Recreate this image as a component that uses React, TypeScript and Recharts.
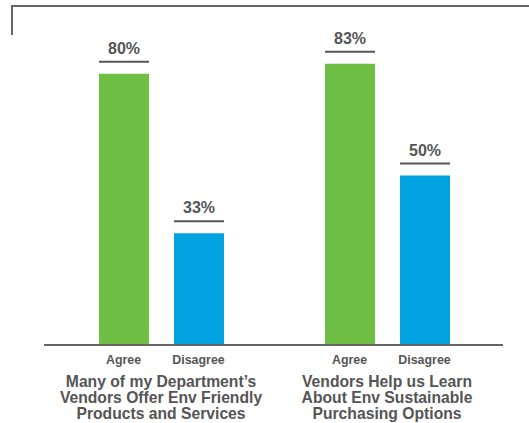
import React from "react";
import { BarChart, Bar, XAxis, YAxis, LabelList } from "recharts";

const groupTitles: string[][] = [
  ["Many of my Department\u2019s", "Vendors Offer Env Friendly", "Products and Services"],
  ["Vendors Help us Learn", "About Env Sustainable", "Purchasing Options"],
];
const categories = ["g1", "g2"];
const agreeValues = [80, 83];
const disagreeValues = [33, 50];
const seriesLabels = ["Agree", "Disagree"];

const data = categories.map((c, i) => ({
  key: c,
  agree: agreeValues[i],
  disagree: disagreeValues[i],
}));

const FONT = "'Liberation Sans', Arial, Helvetica, sans-serif";
const TEXT = "#555555";

const ValueLabel = (props: any) => {
  const { x, y, width, value } = props;
  const cx = x + width / 2;
  return (
    <g>
      <text x={cx} y={y - 20} textAnchor="middle" fontFamily={FONT} fontSize={16} fontWeight="bold" fill={TEXT}>
        {`${value}%`}
      </text>
      <line x1={x} x2={x + width} y1={y - 12} y2={y - 12} stroke={TEXT} strokeWidth={2} />
    </g>
  );
};

const GroupTick = (props: any) => {
  const { x, y, payload } = props;
  const idx = categories.indexOf(payload.value);
  const lines = groupTitles[idx] || [];
  return (
    <g>
      <text x={x - 37.5} y={y + 11} textAnchor="middle" fontFamily={FONT} fontSize={12.4} fontWeight="bold" fill={TEXT}>
        {seriesLabels[0]}
      </text>
      <text x={x + 37.5} y={y + 11} textAnchor="middle" fontFamily={FONT} fontSize={12.4} fontWeight="bold" fill={TEXT}>
        {seriesLabels[1]}
      </text>
      {lines.map((l, i) => (
        <text key={i} x={x} y={y + 34 + i * 16} textAnchor="middle" fontFamily={FONT} fontSize={15.7} fontWeight="bold" fill={TEXT}>
          {l}
        </text>
      ))}
    </g>
  );
};

export default function App() {
  return (
    <div style={{ position: "absolute", left: 0, top: 0, width: 529, height: 423, background: "#fff" }}>
      <div
        style={{
          position: "absolute",
          left: 11,
          top: 5,
          width: 518,
          height: 30,
          borderTop: "2px solid #666",
          borderLeft: "2px solid #666",
          boxSizing: "border-box",
        }}
      />
      <div style={{ position: "absolute", left: 0, top: 0 }}>
        <BarChart
          width={529}
          height={423}
          data={data}
          margin={{ top: 6, right: 26, bottom: 0, left: 44 }}
          barSize={50}
          barGap={25}
        >
          <YAxis hide domain={[0, 100]} />
          <XAxis
            dataKey="key"
            height={78}
            padding={{ left: 4, right: 3 }}
            tickLine={false}
            axisLine={{ stroke: "#666", strokeWidth: 2 }}
            tick={<GroupTick />}
            interval={0}
          />
          <Bar dataKey="agree" fill="#6FBF44" isAnimationActive={false}>
            <LabelList dataKey="agree" content={<ValueLabel />} />
          </Bar>
          <Bar dataKey="disagree" fill="#00A3E0" isAnimationActive={false}>
            <LabelList dataKey="disagree" content={<ValueLabel />} />
          </Bar>
        </BarChart>
      </div>
    </div>
  );
}
